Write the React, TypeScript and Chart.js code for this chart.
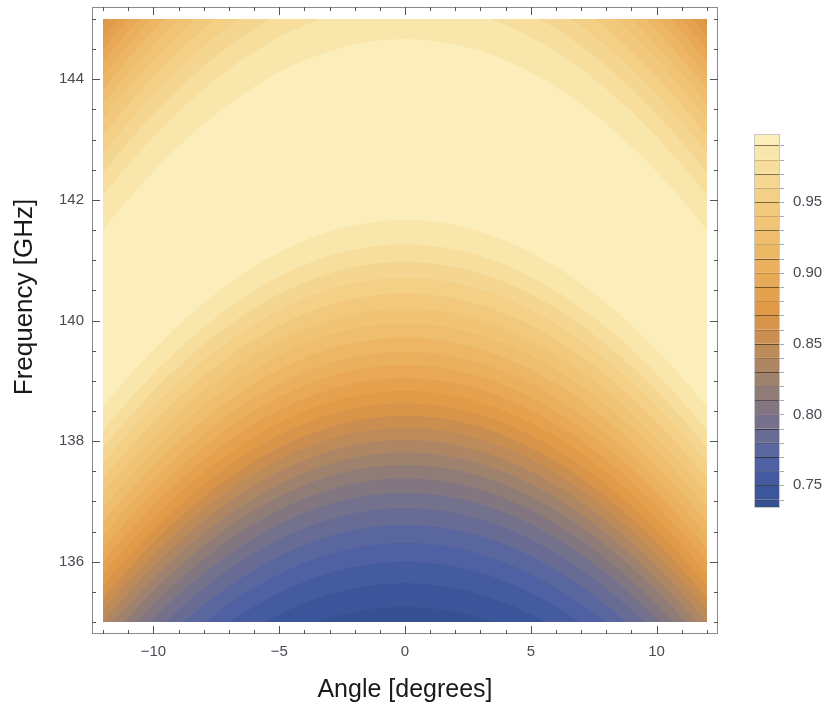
import React, { useEffect, useRef } from 'react';
import { Chart, registerables } from 'chart.js';

Chart.register(...registerables);

// ---- data ----
const ANGLE_MIN = -12;
const ANGLE_MAX = 12;
const FREQ_MIN = 135;
const FREQ_MAX = 145;

const X_MAJOR = [-10, -5, 0, 5, 10];
const X_MINOR = [-12, -11, -10, -9, -8, -7, -6, -5, -4, -3, -2, -1, 0, 1, 2, 3, 4, 5, 6, 7, 8, 9, 10, 11, 12];
const Y_MAJOR = [136, 138, 140, 142, 144];
const Y_MINOR = [135, 135.5, 136, 136.5, 137, 137.5, 138, 138.5, 139, 139.5, 140, 140.5, 141, 141.5, 142, 142.5, 143, 143.5, 144, 144.5, 145];

// transmission profile vs. effective frequency (frequency / cos(angle)), read at angle 0 and along the top edge
const PROFILE_FREQ = [135.0, 135.5, 136.0, 136.5, 137.0, 137.5, 138.0, 138.5, 139.0, 139.5, 140.0, 140.5, 141.0, 141.5, 142.0, 142.5, 143.0, 143.5, 144.0, 144.5, 145.0, 145.5, 146.0, 146.5, 147.0, 147.5, 148.0, 148.5];
const PROFILE_T = [0.734, 0.746, 0.760, 0.776, 0.794, 0.815, 0.839, 0.864, 0.888, 0.911, 0.932, 0.952, 0.971, 0.988, 0.994, 0.997, 0.998, 0.998, 0.996, 0.992, 0.986, 0.974, 0.959, 0.942, 0.922, 0.900, 0.877, 0.853];

const T_MIN = 0.734;
const T_MAX = 0.998;
const CONTOUR_LEVELS = [0.74, 0.75, 0.76, 0.77, 0.78, 0.79, 0.80, 0.81, 0.82, 0.83, 0.84, 0.85, 0.86, 0.87, 0.88, 0.89, 0.90, 0.91, 0.92, 0.93, 0.94, 0.95, 0.96, 0.97, 0.98, 0.99];
const CB_LABELS = [0.75, 0.80, 0.85, 0.90, 0.95];

// ---- styles ----
const RAMP: [number, [number, number, number]][] = [
  [0.73, [50, 76, 138]],
  [0.75, [64, 88, 160]],
  [0.77, [84, 100, 162]],
  [0.79, [110, 110, 145]],
  [0.81, [136, 122, 124]],
  [0.83, [166, 132, 104]],
  [0.85, [196, 141, 84]],
  [0.87, [222, 150, 68]],
  [0.89, [231, 165, 82]],
  [0.92, [237, 186, 105]],
  [0.95, [243, 204, 128]],
  [0.97, [246, 218, 150]],
  [0.99, [250, 234, 178]],
  [1.0, [252, 243, 198]],
];
const TICK_FONT = { family: "'Liberation Sans', Arial, sans-serif", size: 15 };
const TICK_COLOR = '#4a4a55';
const FRAME_COLOR = '#8a8a8a';
const CB = { left: 754, right: 780, top: 134, bottom: 508 };

function ramp(v: number): [number, number, number] {
  if (v <= RAMP[0][0]) return RAMP[0][1];
  for (let i = 1; i < RAMP.length; i++) {
    if (v <= RAMP[i][0]) {
      const [a, ca] = RAMP[i - 1];
      const [b, cb] = RAMP[i];
      const t = (v - a) / (b - a);
      return [ca[0] + (cb[0] - ca[0]) * t, ca[1] + (cb[1] - ca[1]) * t, ca[2] + (cb[2] - ca[2]) * t];
    }
  }
  return RAMP[RAMP.length - 1][1];
}

function bandColor(t: number): [number, number, number] {
  let lo = T_MIN;
  let hi = CONTOUR_LEVELS[0];
  if (t >= CONTOUR_LEVELS[CONTOUR_LEVELS.length - 1]) {
    lo = CONTOUR_LEVELS[CONTOUR_LEVELS.length - 1];
    hi = T_MAX;
  } else {
    for (let i = 0; i < CONTOUR_LEVELS.length; i++) {
      if (t < CONTOUR_LEVELS[i]) {
        hi = CONTOUR_LEVELS[i];
        lo = i === 0 ? T_MIN : CONTOUR_LEVELS[i - 1];
        break;
      }
    }
  }
  return ramp((lo + hi) / 2);
}

function profile(f: number): number {
  if (f <= PROFILE_FREQ[0]) return PROFILE_T[0];
  for (let i = 1; i < PROFILE_FREQ.length; i++) {
    if (f <= PROFILE_FREQ[i]) {
      const t = (f - PROFILE_FREQ[i - 1]) / (PROFILE_FREQ[i] - PROFILE_FREQ[i - 1]);
      return PROFILE_T[i - 1] + (PROFILE_T[i] - PROFILE_T[i - 1]) * t;
    }
  }
  return PROFILE_T[PROFILE_T.length - 1];
}

function transmission(angle: number, freq: number): number {
  return profile(freq / Math.cos((angle * Math.PI) / 180));
}

const contourPlugin = {
  id: 'contourFill',
  beforeDatasetsDraw(chart: any) {
    const xs = chart.scales.x;
    const ys = chart.scales.y;
    const ctx = chart.ctx;
    const x0 = Math.round(xs.getPixelForValue(ANGLE_MIN));
    const x1 = Math.round(xs.getPixelForValue(ANGLE_MAX));
    const y0 = Math.round(ys.getPixelForValue(FREQ_MAX));
    const y1 = Math.round(ys.getPixelForValue(FREQ_MIN));
    const w = x1 - x0;
    const h = y1 - y0;
    const off = document.createElement('canvas');
    off.width = w;
    off.height = h;
    const octx = off.getContext('2d')!;
    const img = octx.createImageData(w, h);
    const S = [0.25, 0.75];
    for (let py = 0; py < h; py++) {
      const fr = S.map((s) => ys.getValueForPixel(y0 + py + s));
      for (let px = 0; px < w; px++) {
        const an = S.map((s) => xs.getValueForPixel(x0 + px + s));
        let r = 0, g = 0, b = 0;
        for (const f of fr) {
          for (const a of an) {
            const c = bandColor(transmission(a, f));
            r += c[0]; g += c[1]; b += c[2];
          }
        }
        const k = (py * w + px) * 4;
        img.data[k] = r / 4;
        img.data[k + 1] = g / 4;
        img.data[k + 2] = b / 4;
        img.data[k + 3] = 255;
      }
    }
    octx.putImageData(img, 0, 0);
    ctx.drawImage(off, x0, y0);
  },
};

const framePlugin = {
  id: 'frameTicks',
  afterDraw(chart: any) {
    const { ctx, chartArea } = chart;
    const xs = chart.scales.x;
    const ys = chart.scales.y;
    const { left, right, top, bottom } = chartArea;
    ctx.save();
    ctx.strokeStyle = FRAME_COLOR;
    ctx.lineWidth = 1;
    ctx.strokeRect(left + 0.5, top + 0.5, right - left - 1, bottom - top - 1);
    ctx.strokeStyle = '#555';
    ctx.beginPath();
    for (const v of X_MINOR) {
      const p = Math.round(xs.getPixelForValue(v)) + 0.5;
      const len = X_MAJOR.includes(v) ? 8 : 4;
      ctx.moveTo(p, bottom); ctx.lineTo(p, bottom - len);
      ctx.moveTo(p, top); ctx.lineTo(p, top + len);
    }
    for (const v of Y_MINOR) {
      const p = Math.round(ys.getPixelForValue(v)) + 0.5;
      const len = Y_MAJOR.includes(v) ? 8 : 4;
      ctx.moveTo(left, p); ctx.lineTo(left + len, p);
      ctx.moveTo(right, p); ctx.lineTo(right - len, p);
    }
    ctx.stroke();

    // axis titles
    ctx.fillStyle = '#1a1a1a';
    ctx.font = "25px 'Liberation Sans', Arial, sans-serif";
    ctx.textAlign = 'center';
    ctx.textBaseline = 'middle';
    ctx.fillText('Angle [degrees]', (left + right) / 2, 690);
    ctx.save();
    ctx.translate(25, 297);
    ctx.rotate(-Math.PI / 2);
    ctx.font = "26px 'Liberation Sans', Arial, sans-serif";
    ctx.fillText('Frequency [GHz]', 0, 0);
    ctx.restore();

    // colour bar
    const cy = (v: number) => CB.top + ((T_MAX - v) / (T_MAX - T_MIN)) * (CB.bottom - CB.top);
    const edges = [T_MIN, ...CONTOUR_LEVELS, T_MAX];
    for (let i = 0; i < edges.length - 1; i++) {
      const c = ramp((edges[i] + edges[i + 1]) / 2);
      ctx.fillStyle = `rgb(${c[0]},${c[1]},${c[2]})`;
      const ya = cy(edges[i + 1]);
      const yb = cy(edges[i]);
      ctx.fillRect(CB.left, ya, CB.right - CB.left, yb - ya);
    }
    CONTOUR_LEVELS.forEach((v, i) => {
      const y = Math.round(cy(v)) + 0.5;
      ctx.strokeStyle = i % 2 === 0 ? 'rgba(60,40,20,0.22)' : 'rgba(30,20,10,0.55)';
      ctx.beginPath();
      ctx.moveTo(CB.left, y);
      ctx.lineTo(CB.right, y);
      ctx.stroke();
      ctx.strokeStyle = '#aaa';
      ctx.beginPath();
      ctx.moveTo(CB.right, y);
      ctx.lineTo(CB.right + 4, y);
      ctx.stroke();
    });
    ctx.strokeStyle = '#c8c8c8';
    ctx.strokeRect(CB.left + 0.5, CB.top + 0.5, CB.right - CB.left - 1, CB.bottom - CB.top - 1);
    ctx.fillStyle = TICK_COLOR;
    ctx.font = `${TICK_FONT.size}px ${TICK_FONT.family}`;
    ctx.textAlign = 'left';
    for (const v of CB_LABELS) {
      ctx.fillText(v.toFixed(2), CB.right + 13, cy(v));
    }
    ctx.restore();
  },
};

const fmt = (v: number) => (v < 0 ? '\u2212' + Math.abs(v) : String(v));

export default function App() {
  const ref = useRef<HTMLCanvasElement>(null);
  useEffect(() => {
    document.body.style.margin = '0';
    const chart = new Chart(ref.current!, {
      type: 'scatter',
      data: { datasets: [{ data: [] }] },
      options: {
        animation: false,
        responsive: false,
        devicePixelRatio: 1,
        layout: { padding: { top: 7, right: 110, left: 0, bottom: 0 } },
        plugins: { legend: { display: false }, tooltip: { enabled: false } },
        scales: {
          x: {
            type: 'linear',
            min: -12.44,
            max: 12.44,
            grid: { display: false, drawTicks: false },
            border: { display: false },
            ticks: { font: TICK_FONT, color: TICK_COLOR, padding: 9, callback: (v: any) => fmt(Number(v)) },
            afterBuildTicks: (axis: any) => { axis.ticks = X_MAJOR.map((value) => ({ value })); },
            afterFit: (s: any) => { s.height = 72; s.paddingLeft = 0; s.paddingRight = 0; },
          },
          y: {
            type: 'linear',
            min: 134.8,
            max: 145.2,
            grid: { display: false, drawTicks: false },
            border: { display: false },
            ticks: { font: TICK_FONT, color: TICK_COLOR, padding: 8, callback: (v: any) => String(v) },
            afterBuildTicks: (axis: any) => { axis.ticks = Y_MAJOR.map((value) => ({ value })); },
            afterFit: (s: any) => { s.width = 92; s.paddingTop = 0; s.paddingBottom = 0; },
          },
        },
      },
      plugins: [contourPlugin, framePlugin],
    } as any);
    return () => chart.destroy();
  }, []);
  return (
    <div style={{ width: 828, height: 706 }}>
      <canvas ref={ref} width={828} height={706} />
    </div>
  );
}
